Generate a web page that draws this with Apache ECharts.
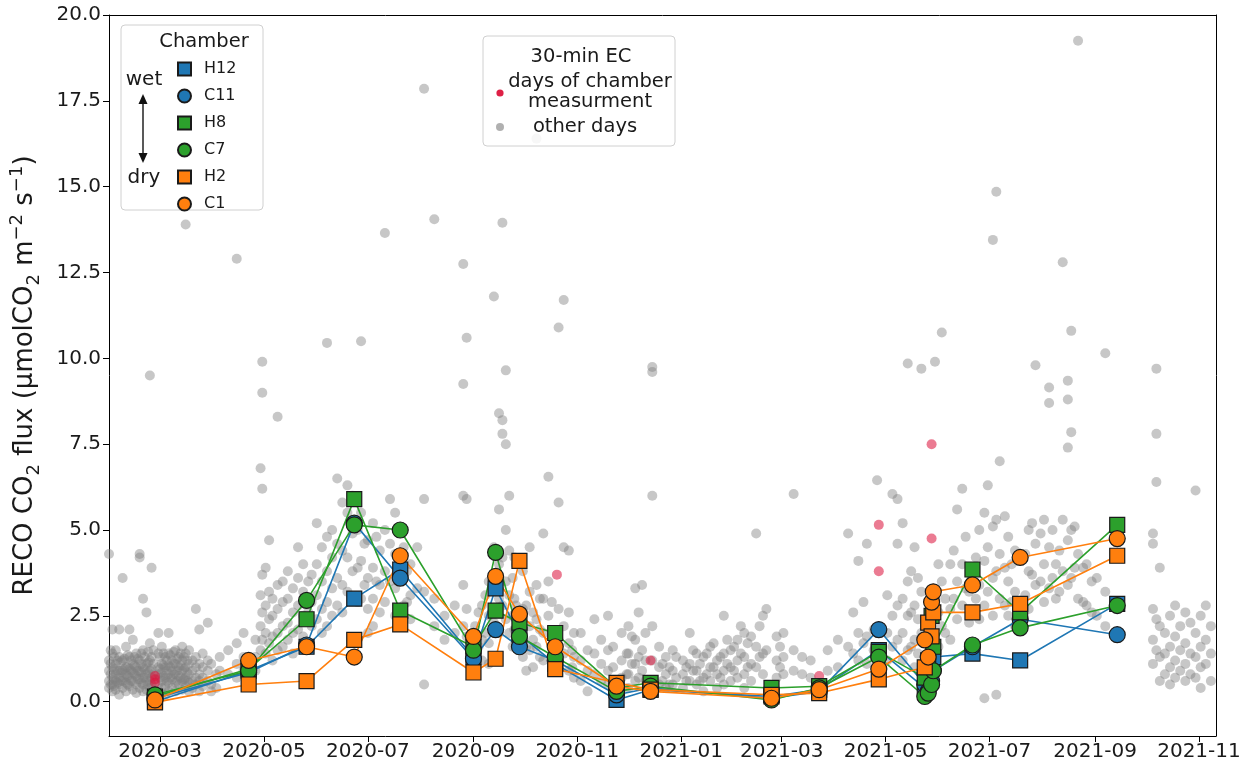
<!DOCTYPE html>
<html><head><meta charset="utf-8">
<script src="https://cdn.jsdelivr.net/npm/echarts@6/dist/echarts.min.js"></script>
<style>html,body{margin:0;padding:0;background:#fff}#c{width:1253px;height:771px}</style>
</head><body><div id="c"></div>
<script>
// ---------- DATA ----------
const chamberNames = ['H12','C11','H8','C7','H2','C1'];
const chamberDates = ['2020-02-27','2020-04-22','2020-05-26','2020-06-23','2020-07-20','2020-09-01','2020-09-14','2020-09-28','2020-10-19','2020-11-24','2020-12-14','2021-02-23','2021-03-23','2021-04-27','2021-05-24','2021-05-26','2021-05-28','2021-05-29','2021-06-21','2021-07-19','2021-09-14'];
const H12 = [0.0,0.9,1.6,3.0,3.85,1.3,3.3,1.95,1.1,0.05,0.35,0.15,0.35,1.5,0.4,0.8,1.0,1.3,1.4,1.2,2.85];
const C11 = [0.1,0.85,1.65,5.2,3.6,1.25,2.1,1.6,1.2,0.2,0.4,0.1,0.3,2.1,0.5,0.3,0.6,0.9,1.6,2.4,1.95];
const H8  = [0.15,0.95,2.4,5.9,2.65,1.6,2.65,2.3,2.0,0.4,0.55,0.4,0.45,1.45,0.7,1.2,2.5,1.6,3.85,2.6,5.15];
const C7  = [0.2,0.9,2.95,5.15,5.0,1.5,4.35,1.9,1.3,0.3,0.45,0.05,0.4,1.3,0.15,0.25,0.5,0.9,1.65,2.15,2.8];
const H2  = [-0.02,0.5,0.6,1.8,2.25,0.85,1.25,4.1,0.95,0.55,0.35,0.2,0.25,0.65,1.0,2.3,1.9,2.6,2.6,2.85,4.25];
const C1  = [0.05,1.2,1.6,1.3,4.25,1.9,3.65,2.55,1.6,0.45,0.3,0.1,0.35,0.95,1.8,1.3,2.9,3.2,3.4,4.2,4.75];
const chamberValues = {H12, C11, H8, C7, H2, C1};

// 30-min EC fluxes, grouped by day: [date, [values]]
const ecChamberDays = [
 ['2020-02-27',[0.75,0.65,0.55]],['2020-10-20',[3.7]],['2020-12-14',[1.2]],
 ['2021-03-23',[0.75]],['2021-04-27',[5.15,3.8]],['2021-05-28',[7.5,4.75]]
];
const ecOtherDays = [
 ['2020-01-31',[4.3,1.2,0.9,0.6,0.4]],['2020-02-01',[1.5,1.1,0.8,0.5]],['2020-02-02',[1.4,1.0,0.7,0.5,0.3,2.1]],['2020-02-03',[1.3,0.95,0.65,0.45]],['2020-02-04',[1.1,0.8,0.6,0.35,1.5]],
 ['2020-02-05',[1.2,0.9,0.55]],['2020-02-06',[1.3,0.9,0.7,0.5,0.2,2.1]],['2020-02-07',[1.15,0.85,0.6]],['2020-02-08',[3.6,1.2,0.9,0.6,0.4]],['2020-02-09',[1.25,0.95,0.7]],['2020-02-10',[1.0,0.8,0.55,0.3,1.6]],
 ['2020-02-11',[1.35,1.0,0.75,0.5]],['2020-02-12',[2.1,1.3,0.95,0.7,0.45]],['2020-02-13',[1.2,0.9,0.6]],['2020-02-14',[1.1,0.85,0.6,0.35,1.8]],['2020-02-15',[1.3,1.05,0.8]],['2020-02-16',[1.4,1.0,0.75,0.5,0.25]],
 ['2020-02-17',[1.25,0.9,0.65]],['2020-02-18',[4.3,4.2,1.2,0.9,0.65,0.4]],['2020-02-19',[1.4,1.1,0.85,0.55]],['2020-02-20',[3.0,1.5,1.0,0.7,0.5,0.3]],['2020-02-21',[1.3,0.95,0.7]],['2020-02-22',[2.6,1.1,0.8,0.6,0.35]],
 ['2020-02-23',[1.45,1.15,0.85,0.5]],['2020-02-24',[9.5,1.7,1.2,0.9,0.6,0.4]],['2020-02-25',[3.9,1.3,0.95,0.7,0.5]],['2020-02-26',[1.5,1.1,0.8]],['2020-02-29',[2.0,1.4,1.0,0.8,0.5,0.3]],
 ['2020-03-01',[1.3,0.95,0.7]],['2020-03-02',[1.6,1.1,0.85,0.6,0.4]],['2020-03-03',[1.4,1.05,0.75]],['2020-03-04',[1.3,1.0,0.7,0.45,0.2]],['2020-03-05',[1.2,0.9,0.6]],['2020-03-06',[2.0,1.4,1.05,0.8,0.55,0.3]],
 ['2020-03-07',[1.35,1.0,0.7]],['2020-03-08',[1.2,0.9,0.65,0.4]],['2020-03-09',[1.45,1.1,0.8]],['2020-03-10',[1.5,1.1,0.8,0.55,0.3]],['2020-03-11',[1.25,0.9,0.6]],['2020-03-12',[1.3,1.0,0.75,0.5]],
 ['2020-03-13',[1.4,1.05,0.7]],['2020-03-14',[1.6,1.2,0.9,0.6,0.35]],['2020-03-15',[1.3,0.95,0.65]],['2020-03-16',[13.9,1.4,1.0,0.7,0.45]],['2020-03-17',[1.2,0.85,0.6]],['2020-03-18',[1.5,1.1,0.8,0.55,0.3]],
 ['2020-03-20',[1.2,0.9,0.6,0.4]],['2020-03-22',[2.7,1.3,1.0,0.7,0.5]],['2020-03-24',[2.1,1.1,0.8,0.6,0.3]],
 ['2020-03-26',[1.4,1.0,0.7,0.45]],['2020-03-29',[2.3,1.2,0.9,0.6]],['2020-03-31',[1.1,0.5,0.3]],['2020-04-03',[0.8,0.4]],
 ['2020-04-05',[1.3,0.9]],['2020-04-10',[1.5,0.8]],['2020-04-15',[12.9,1.7,1.1,0.7]],['2020-04-19',[2.0,1.3,0.9]],
 ['2020-04-26',[1.8,1.3,0.9]],['2020-04-29',[6.8,3.1,2.2,1.5]],['2020-04-30',[9.9,9.0,6.2,3.7,2.6,1.8]],
 ['2020-05-02',[3.9,2.8,2.0,1.4]],['2020-05-04',[4.7,3.2,2.4,1.7]],['2020-05-06',[3.0,2.5,1.9,1.2]],
 ['2020-05-09',[8.3,3.4,2.7,2.0,1.5]],['2020-05-12',[3.5,2.9,2.2,1.6]],['2020-05-15',[3.8,3.0,2.3,1.8]],
 ['2020-05-18',[3.3,2.6,2.0,1.4]],['2020-05-21',[4.5,3.6,2.8,2.1]],['2020-05-24',[4.0,3.2,2.5,1.9]],['2020-05-27',[3.5,2.6]],
 ['2020-05-29',[3.7,2.9,2.2]],['2020-06-01',[5.2,4.0,3.1,2.4]],['2020-06-04',[4.5,3.5,2.7,2.0]],
 ['2020-06-07',[10.45,4.8,3.8,2.9,2.2]],['2020-06-10',[5.0,4.2,3.3,2.5]],['2020-06-13',[6.5,4.6,3.6,2.8]],
 ['2020-06-16',[5.8,4.4,3.4,2.6]],['2020-06-19',[6.3,5.5,4.2,3.2]],['2020-06-22',[6.0,4.9,3.8]],['2020-06-25',[5.0,3.9,2.9]],
 ['2020-06-27',[10.5,5.5,4.1,3.0]],['2020-06-29',[4.6,3.4]],['2020-07-01',[4.7,3.6,2.7,2.0]],['2020-07-04',[5.2,3.9,3.0,2.2]],['2020-07-06',[4.8,3.5]],
 ['2020-07-08',[4.4,3.4,2.6]],['2020-07-11',[13.65,5.0,3.8,2.9]],['2020-07-14',[5.9,4.6,3.5]],
 ['2020-07-17',[5.5,4.3,3.3,2.5]],['2020-07-22',[4.5,3.6,2.8]],['2020-07-24',[3.8,2.9]],['2020-07-26',[4.0,3.1,2.4]],['2020-07-30',[4.5,3.3]],
 ['2020-08-03',[17.85,5.9,3.2,0.5]],['2020-08-09',[14.05,3.0,2.2]],['2020-08-15',[2.5,1.8]],['2020-08-21',[2.8,2.0]],
 ['2020-08-26',[12.75,9.25,6.0,3.4,2.2]],['2020-08-28',[10.6,5.9,2.7,1.9]],['2020-09-02',[2.2,1.5,1.0]],['2020-09-04',[2.6,1.6]],
 ['2020-09-06',[2.8,1.8,1.2]],['2020-09-08',[3.1,2.0]],['2020-09-10',[3.5,2.5,1.7,1.1]],['2020-09-13',[11.8,4.5,3.2,2.3]],
 ['2020-09-16',[8.4,5.6,4.0,3.0,2.0]],['2020-09-18',[13.95,8.2,7.8,4.2,2.8]],['2020-09-20',[9.65,7.5,5.0,3.5,2.4]],
 ['2020-09-22',[6.0,4.4,3.1,2.0]],['2020-09-24',[3.6,2.5,1.6]],['2020-09-25',[4.2,3.0,2.1]],['2020-09-26',[4.0,2.8]],['2020-09-30',[3.8,2.7,1.9,1.3]],
 ['2020-10-02',[2.8,1.6,0.9]],['2020-10-04',[4.5,3.2,2.2,1.5]],['2020-10-06',[2.6,1.8,1.0]],['2020-10-08',[16.4,3.4,2.4,1.6]],['2020-10-10',[3.0,2.1,1.3]],['2020-10-12',[4.9,3.0,2.0,1.2]],
 ['2020-10-15',[6.55,3.5,2.5]],['2020-10-17',[2.9,1.9,1.1]],['2020-10-21',[10.9,5.8,2.7,1.8,1.0]],['2020-10-24',[11.7,4.5,2.2,1.4]],
 ['2020-10-27',[4.4,2.6,1.7,0.9]],['2020-10-29',[1.5,1.0]],['2020-10-30',[2.0,1.3,0.7]],['2020-11-03',[2.0,1.2,0.6]],['2020-11-07',[1.5,0.9,0.3]],
 ['2020-11-11',[2.4,1.4,0.8]],['2020-11-15',[1.8,1.1,0.6]],['2020-11-19',[2.5,1.5,0.9,0.5]],['2020-11-22',[1.6,1.0,0.5]],['2020-11-27',[2.0,1.2,0.7]],['2020-11-30',[1.4,0.8]],
 ['2020-12-01',[2.2,1.4,0.8,0.4]],['2020-12-03',[1.9,1.1]],['2020-12-05',[3.3,1.8,1.1,0.6]],['2020-12-07',[2.6,1.3,0.7]],['2020-12-09',[3.4,1.5,0.9]],['2020-12-11',[2.0,1.2,0.6]],
 ['2020-12-15',[9.75,9.6,6.0,2.2,1.2]],['2020-12-19',[1.6,1.0,0.5]],['2020-12-21',[1.1,0.6]],['2020-12-23',[1.3,0.8,0.4]],['2020-12-25',[1.0,0.5]],['2020-12-27',[1.5,0.9,0.5]],['2020-12-29',[1.3,0.7]],
 ['2021-01-02',[1.2,0.8,0.4]],['2021-01-04',[1.0,0.6]],['2021-01-06',[2.0,1.1,0.6]],['2021-01-08',[1.5,0.9]],['2021-01-10',[1.4,0.9,0.5]],['2021-01-12',[1.1,0.6]],['2021-01-14',[1.3,0.7,0.3]],
 ['2021-01-16',[1.4,0.8]],['2021-01-18',[1.6,1.0,0.6]],['2021-01-20',[1.7,1.0]],['2021-01-22',[1.2,0.8,0.4]],['2021-01-24',[1.3,0.7]],['2021-01-26',[2.5,1.4,0.9,0.5]],['2021-01-28',[1.8,1.1]],['2021-01-30',[1.5,1.0,0.6]],
 ['2021-02-01',[1.6,0.9]],['2021-02-03',[1.8,1.2,0.7]],['2021-02-05',[2.2,1.4]],['2021-02-07',[2.0,1.3,0.8,0.4]],['2021-02-09',[1.7,1.0]],['2021-02-11',[1.9,1.1,0.6]],['2021-02-14',[4.9,1.6,1.0]],
 ['2021-02-16',[2.2,1.3]],['2021-02-18',[2.5,1.4,0.8]],['2021-02-20',[2.7,1.5]],['2021-02-26',[1.9,1.2,0.7]],['2021-02-28',[1.6,1.0]],['2021-03-02',[2.0,1.3,0.8]],['2021-03-08',[6.05,1.5,0.9]],
 ['2021-03-13',[1.3,0.8]],['2021-03-18',[1.2,0.7]],['2021-03-28',[1.5,0.9]],['2021-04-03',[1.8,1.0]],['2021-04-09',[4.9,1.6]],['2021-04-12',[2.6,1.4]],
 ['2021-04-15',[4.1,2.0,1.2]],['2021-04-18',[2.9,1.7]],['2021-04-20',[4.6,1.9,1.1]],['2021-04-24',[2.1,1.5]],['2021-04-26',[6.45,2.0]],
 ['2021-05-02',[3.1,2.0,1.2]],['2021-05-05',[6.05,2.5,1.6]],['2021-05-08',[5.9,4.6,2.8,1.8]],['2021-05-11',[5.2,3.0,2.0,1.2]],['2021-05-14',[9.85,3.5,2.5,1.5]],['2021-05-16',[3.8,2.6,1.6]],
 ['2021-05-18',[4.5,2.8,1.8,1.0]],['2021-05-20',[3.6,2.4,1.4]],['2021-05-22',[9.7,3.2,2.0]],['2021-05-30',[9.9,3.0,1.8]],['2021-06-01',[4.0,2.6,1.6]],['2021-06-03',[10.75,3.5,2.2]],['2021-06-05',[3.0,2.0]],
 ['2021-06-08',[4.0,2.7,1.8]],['2021-06-10',[4.4,3.0]],['2021-06-12',[5.6,3.5,2.4]],['2021-06-15',[6.2,4.0,2.8]],['2021-06-17',[4.8,3.3]],['2021-06-19',[3.2,2.3]],['2021-06-23',[4.2,3.0]],
 ['2021-06-25',[5.0,3.4,2.4]],['2021-06-28',[5.5,4.1,2.8,0.1]],['2021-06-30',[6.3,4.5,3.2]],['2021-07-03',[13.45,5.1,3.6,2.5]],
 ['2021-07-05',[14.85,5.3,3.8,0.2]],['2021-07-07',[7.0,4.3,3.0]],['2021-07-10',[5.4,3.9,2.8]],['2021-07-12',[4.8,3.5,2.5]],['2021-07-14',[4.0,2.9]],['2021-07-16',[4.4,3.2,2.2]],
 ['2021-07-22',[4.3,3.1]],['2021-07-24',[5.0,3.8,2.7]],['2021-07-26',[5.2,3.7]],['2021-07-28',[9.8,4.6,3.4]],['2021-07-31',[4.9,3.5]],['2021-08-02',[5.3,4.0,2.9]],['2021-08-05',[8.7,9.15,4.5,3.3]],
 ['2021-08-07',[5.0,3.6]],['2021-08-09',[4.0,3.0]],['2021-08-11',[4.4,3.2]],['2021-08-13',[12.8,5.3,3.8]],['2021-08-16',[9.35,8.8,7.4,4.7,3.4]],['2021-08-18',[10.8,7.85,5.0,3.6]],['2021-08-20',[5.1,3.9]],
 ['2021-08-22',[19.25,4.3,3.0]],['2021-08-25',[3.9,2.9]],['2021-08-27',[4.0,2.8]],['2021-08-30',[3.5,2.6]],['2021-09-02',[3.6,2.5]],['2021-09-07',[10.15,3.2,2.2]],
 ['2021-10-05',[4.9,4.6,2.7,1.8,1.1]],['2021-10-07',[9.7,7.8,6.4,2.4,1.5]],['2021-10-09',[3.9,2.2,1.3,0.6]],
 ['2021-10-12',[2.0,1.4,0.8]],['2021-10-15',[2.5,1.6,1.0,0.5]],['2021-10-18',[2.8,1.9,1.2,0.7]],['2021-10-21',[2.2,1.5,0.9]],
 ['2021-10-24',[2.6,1.7,1.1,0.6]],['2021-10-27',[2.3,1.4,0.8]],['2021-10-30',[6.15,2.0,1.3,0.7]],['2021-11-02',[2.5,1.6,1.0,0.4]],
 ['2021-11-05',[2.8,1.8,1.1]],['2021-11-08',[2.2,1.4,0.6]]
];
const yTickValues = [0,2.5,5,7.5,10,12.5,15,17.5,20];
const xTickMonths = ['2020-03','2020-05','2020-07','2020-09','2020-11','2021-01','2021-03','2021-05','2021-07','2021-09','2021-11'];

// ---------- CHART ----------
const FONT = 'DejaVu Sans';
const colors = {H12:'#1f77b4',C11:'#1f77b4',H8:'#2ca02c',C7:'#2ca02c',H2:'#ff7f0e',C1:'#ff7f0e'};
const toTs = s => { const [y,m,d] = s.split('-').map(Number); return Date.UTC(y, m-1, d||1); };
const flatten = g => g.flatMap(([d,vs]) => vs.map(v => [toTs(d), v]));
const xTicks = xTickMonths.map(toTs);
const xMin = toTs('2020-01-31'), xMax = toTs('2021-11-11');
const fmtMonth = v => { const d = new Date(v); return d.getUTCFullYear() + '-' + String(d.getUTCMonth()+1).padStart(2,'0'); };

const chamberSeries = chamberNames.map(n => ({
  name: n, type: 'line', z: 5,
  data: chamberDates.map((d,i) => [toTs(d), chamberValues[n][i]]),
  symbol: n[0]==='H' ? 'rect' : 'circle',
  symbolSize: n[0]==='H' ? 15 : 16,
  itemStyle: {color: colors[n], borderColor: '#1a1a1a', borderWidth: 1.2},
  lineStyle: {color: colors[n], width: 1.6},
  emphasis: {disabled: true}
}));

const T = (text, x, y, size) => ({type: 'text', z: 11, x, y,
  style: {text, fontSize: size, fontFamily: FONT, fill: '#1a1a1a', align: 'center', verticalAlign: 'middle'}});

const chart = echarts.init(document.getElementById('c'), null, {renderer: 'canvas'});
chart.setOption({
  backgroundColor: '#fff',
  animation: false,
  textStyle: {fontFamily: FONT},
  grid: {left: 106, right: 37, top: 15, bottom: 35, containLabel: false},
  xAxis: [{
    type: 'value', min: xMin, max: xMax, scale: true,
    axisLine: {onZero: false, lineStyle: {color: '#000', width: 1}},
    axisTick: {show: true, length: 6, customValues: xTicks, lineStyle: {color: '#000'}},
    axisLabel: {customValues: xTicks, fontSize: 20, color: '#1a1a1a', fontFamily: FONT, margin: 6, formatter: fmtMonth},
    splitLine: {show: false}
  },{
    type: 'value', min: xMin, max: xMax, scale: true, position: 'top',
    axisLine: {show: true, onZero: false, lineStyle: {color: '#000'}}, axisTick: {show: false}, axisLabel: {show: false}, splitLine: {show: false}
  }],
  yAxis: [{
    type: 'value', min: -1, max: 20,
    name: 'RECO CO{sub|2} flux (\u03bcmolCO{sub|2} m{sup|\u22122} s{sup|\u22121})',
    nameLocation: 'middle', nameGap: 66, nameRotate: 90,
    nameTextStyle: {fontSize: 26, color: '#1a1a1a', fontFamily: FONT, lineHeight: 35,
      rich: {sub: {fontSize: 18, fontFamily: FONT, color: '#1a1a1a', verticalAlign: 'bottom', lineHeight: 18},
             sup: {fontSize: 18, fontFamily: FONT, color: '#1a1a1a', verticalAlign: 'top', lineHeight: 18}}},
    axisLine: {show: true, onZero: false, lineStyle: {color: '#000'}},
    axisTick: {show: true, length: 6, customValues: yTickValues, lineStyle: {color: '#000'}},
    axisLabel: {customValues: yTickValues, fontSize: 20, color: '#1a1a1a', fontFamily: FONT, margin: 8,
      formatter: v => Number(v).toFixed(1)},
    splitLine: {show: false}
  },{
    type: 'value', min: -1, max: 20, position: 'right',
    axisLine: {show: true, onZero: false, lineStyle: {color: '#000'}}, axisTick: {show: false}, axisLabel: {show: false}, splitLine: {show: false}
  }],
  legend: [{
    data: chamberNames.map(n => ({name: n, icon: n[0]==='H' ? 'rect' : 'circle'})),
    orient: 'vertical', left: 177, top: 61, padding: 0, itemWidth: 13, itemHeight: 13, itemGap: 11,
    selectedMode: false, z: 20,
    textStyle: {fontSize: 16, lineHeight: 13, color: '#1a1a1a', fontFamily: FONT, padding: [0,0,0,8]}
  }],
  series: [
    {name: 'other days', type: 'scatter', z: 1, data: flatten(ecOtherDays), symbolSize: 10,
     itemStyle: {color: 'rgba(128,128,128,0.55)'}, emphasis: {disabled: true}},
    {name: 'days of chamber measurment', type: 'scatter', z: 2, data: flatten(ecChamberDays), symbolSize: 10,
     itemStyle: {color: 'rgba(220,20,60,0.7)'}, emphasis: {disabled: true}},
    ...chamberSeries
  ],
  graphic: [
    {type: 'rect', z: 10, shape: {x: 121, y: 25, width: 142, height: 185, r: 4}, style: {fill: 'rgba(255,255,255,0.85)', stroke: '#d0d0d0', lineWidth: 1}},
    T('Chamber', 204, 42, 19.5),
    T('wet', 144, 80, 20),
    T('dry', 144, 178, 20),
    {type: 'line', z: 11, shape: {x1: 143, y1: 100, x2: 143, y2: 157}, style: {stroke: '#222', lineWidth: 1.5}},
    {type: 'polygon', z: 11, shape: {points: [[143,94],[138.5,104],[147.5,104]]}, style: {fill: '#111'}},
    {type: 'polygon', z: 11, shape: {points: [[143,163],[138.5,153],[147.5,153]]}, style: {fill: '#111'}},
    {type: 'rect', z: 10, shape: {x: 483, y: 36, width: 192, height: 110, r: 4}, style: {fill: 'rgba(255,255,255,0.85)', stroke: '#d0d0d0', lineWidth: 1}},
    T('30-min EC', 581, 57, 19.5),
    {type: 'circle', z: 11, shape: {cx: 500, cy: 93, r: 3.6}, style: {fill: 'rgba(220,20,60,0.95)'}},
    T('days of chamber', 590, 82, 19.5),
    T('measurment', 590, 102, 19.5),
    {type: 'circle', z: 11, shape: {cx: 500, cy: 127, r: 4}, style: {fill: 'rgba(150,150,150,0.75)'}},
    T('other days', 585, 127, 19.5)
  ]
});
</script></body></html>
